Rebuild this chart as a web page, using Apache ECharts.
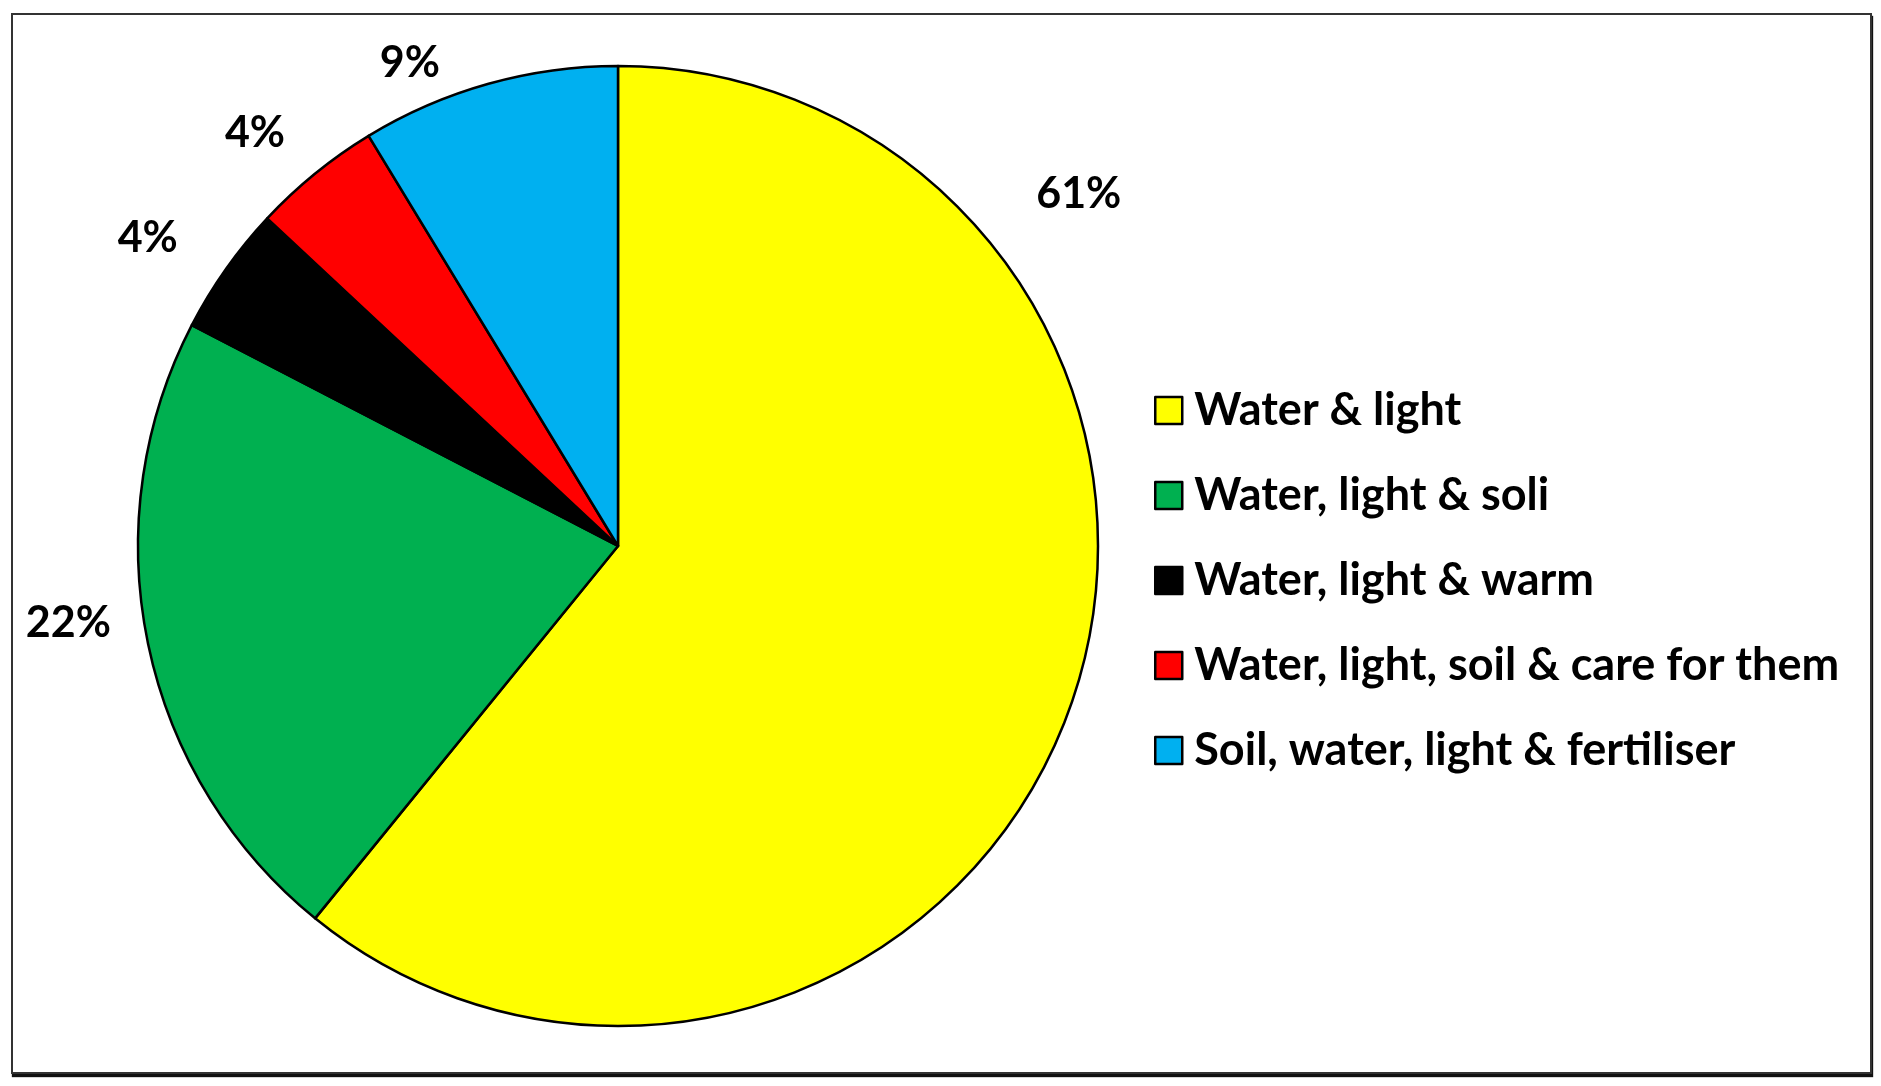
<!DOCTYPE html>
<html>
<head>
<meta charset="utf-8">
<script src="https://cdn.jsdelivr.net/npm/echarts@6/dist/echarts.min.js"></script>
<style>
  html, body { margin: 0; padding: 0; background: #fff; }
  #frame { position: absolute; left: 11px; top: 13px; width: 1857px; height: 1057px;
           border: 2px solid #333; box-shadow: 1px 3px 1px #111; }
  #chart { position: absolute; left: 0; top: 0; width: 1881px; height: 1086px; }
</style>
</head>
<body>
<div id="frame"></div>
<div id="chart"></div>
<script>
const categories = ['Water & light', 'Water, light & soli', 'Water, light & warm', 'Water, light, soil & care for them', 'Soil, water, light & fertiliser'];
const counts = [14, 5, 1, 1, 2];
const colors = ['#FFFF00', '#00B050', '#000000', '#FF0000', '#00B0F0'];

const CX = 618, CY = 546, R = 480;
const FONT = 'Lato, "Open Sans", sans-serif';

// label placement (layout only): angle clockwise from 12 o'clock, distance from centre
const LABEL_PLACE = {
  angle: [52.6, 262.0, 303.2, 318.7, 336.7],
  dist: [580, 555, 562, 550, 526]
};

const chart = echarts.init(document.getElementById('chart'), null, { renderer: 'canvas' });
chart.setOption({
  backgroundColor: 'transparent',
  animation: false,
  color: colors,
  legend: {
    orient: 'vertical',
    left: 1149,
    top: 383,
    itemWidth: 27,
    itemHeight: 27,
    itemGap: 40,
    icon: 'rect',
    itemStyle: { borderColor: '#000', borderWidth: 2.5 },
    textStyle: { fontFamily: FONT, fontWeight: 'bold', fontSize: 45, color: '#000', lineHeight: 44, padding: [0, 0, 0, 7] },
    data: categories
  },
  series: [{
    type: 'pie',
    center: [CX, CY],
    radius: R,
    startAngle: 90,
    clockwise: true,
    percentPrecision: 0,
    avoidLabelOverlap: false,
    itemStyle: { borderColor: '#000', borderWidth: 2.5 },
    label: {
      show: true,
      position: 'outside',
      formatter: '{d}%',
      fontFamily: FONT,
      fontWeight: 'bold',
      fontSize: 43,
      color: '#000'
    },
    labelLine: { show: false, length: 34, length2: 0 },
    labelLayout: function (p) {
      const i = p.dataIndex;
      const a = LABEL_PLACE.angle[i] * Math.PI / 180;
      const d = LABEL_PLACE.dist[i];
      return {
        x: CX + d * Math.sin(a),
        y: CY - d * Math.cos(a),
        align: 'center',
        verticalAlign: 'middle'
      };
    },
    emphasis: { disabled: true },
    data: categories.map((c, i) => ({ name: c, value: counts[i] }))
  }]
});
</script>
</body>
</html>
